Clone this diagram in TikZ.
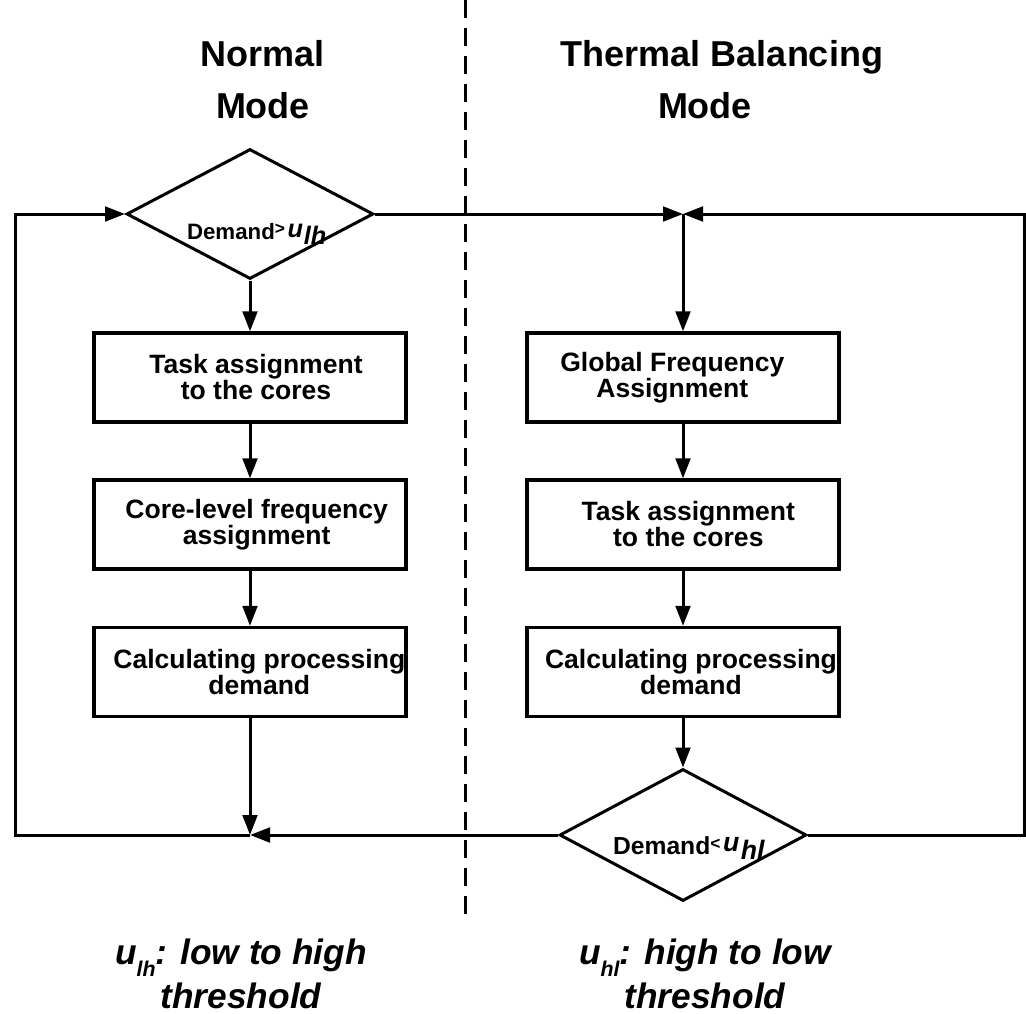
\documentclass[tikz,border=0pt]{standalone}
\usepackage{fontspec}
\setmainfont{Liberation Sans}
\usetikzlibrary{arrows.meta,shapes.geometric}
\newcommand{\dsub}[1]{\raisebox{-3.5pt}{\fontsize{19}{19}\selectfont\textit{#1}}}
\newcommand{\du}{\raisebox{1.5pt}{\fontsize{19}{19}\selectfont\textit{u}}}
\begin{document}
\begin{tikzpicture}[x=0.75pt,y=-0.75pt,
  ln/.style={line width=2.25pt},
  arr/.style={ln,-{Triangle[length=15pt,width=11pt]}},
  box/.style={draw,line width=2.5pt,minimum width=234pt,minimum height=66.75pt,inner sep=0pt},
  dia/.style={draw,diamond,line width=2.25pt,minimum width=185.25pt,minimum height=97.5pt,inner sep=0pt},
  btxt/.style={font=\fontsize{19.9}{19.5}\selectfont\bfseries,align=center,inner sep=0pt},
  dtxt/.style={font=\fontsize{16.7}{16.7}\selectfont\bfseries,inner sep=0pt,anchor=base},
  ttl/.style={font=\fontsize{27}{27}\selectfont\bfseries,anchor=base,inner sep=0pt},
  ftl/.style={font=\fontsize{26.5}{26.5}\selectfont\bfseries\itshape,anchor=base,inner sep=0pt},
]
\useasboundingbox (0,0) rectangle (1026,1014);
\fill[white] (0,0) rectangle (1026,1014);

% separator
\coordinate (sepT) at (465,0);
\coordinate (sepB) at (465,920);
\draw[ln,dash pattern=on 13.5pt off 7.5pt] (sepT) -- (sepB);

% titles
\node[ttl] (t1) at (263,66) {Normal};
\node[ttl] (t2) at (263,118) {Mode};
\node[ttl] (t3) at (722,66) {Thermal Balancing};
\node[ttl] (t4) at (705,118) {Mode};

% left column
\node[dia,label={[dtxt,xshift=5pt,yshift=-15pt]center:{Demand\raisebox{4pt}{\fontsize{13}{13}\selectfont >}\kern2pt\du\kern0.5pt\dsub{lh}}}] (dL) at (250,214) {};
\node[box,label={[btxt,xshift=4.5pt]center:{Task assignment\\to the cores}}] (bL1) at (250,377.5) {};
\node[box,label={[btxt,xshift=5pt]center:{Core-level frequency\\assignment}}] (bL2) at (250,524.5) {};
\node[box,label={[btxt,xshift=7pt]center:{Calculating processing\\demand}}] (bL3) at (250,672) {};

% right column
\node[box,label={[btxt,xshift=-8pt]center:{Global Frequency\\Assignment}}] (bR1) at (683,377.5) {};
\node[box,label={[btxt,xshift=4pt]center:{Task assignment\\to the cores}}] (bR2) at (683,524.5) {};
\node[box,label={[btxt,xshift=6pt]center:{Calculating processing\\demand}}] (bR3) at (683,672) {};
\node[dia,minimum height=99pt,label={[dtxt,font=\fontsize{18.5}{18.5}\selectfont\bfseries,xshift=4.5pt,yshift=-10pt]center:{Demand\raisebox{4pt}{\fontsize{13}{13}\selectfont <}\kern2pt\raisebox{2pt}{\fontsize{20}{20}\selectfont\textit{u}}\kern1pt\raisebox{-4pt}{\fontsize{20}{20}\selectfont\textit{hl}}}}] (dR) at (683,835) {};

% junctions and corners
\coordinate (jL) at (250,835);
\coordinate (jR) at (683,214);
\coordinate (cLB) at (15,835);
\coordinate (cRB) at (1024,835);

% connectors left
\draw[arr] (dL.south) -- (bL1.north);
\draw[arr] (bL1.south) -- (bL2.north);
\draw[arr] (bL2.south) -- (bL3.north);
\draw[arr] (bL3.south) -- (jL);
\draw[arr] (jL) -- (cLB) |- (dL.west);
\draw[arr] (dL.east) -- (jR);

% connectors right
\draw[arr] (jR) -- (bR1.north);
\draw[arr] (bR1.south) -- (bR2.north);
\draw[arr] (bR2.south) -- (bR3.north);
\draw[arr] (bR3.south) -- (dR.north);
\draw[arr] (dR.west) -- (jL);
\draw[arr] (dR.east) -- (cRB) |- (jR);

% footnotes
\node[ftl] (f1) at (241,964) {u\raisebox{-9pt}{\fontsize{16}{16}\selectfont lh}: low to high};
\node[ftl] (f2) at (241,1008) {threshold};
\node[ftl] (f3) at (705,964) {u\raisebox{-9pt}{\fontsize{16}{16}\selectfont hl}: high to low};
\node[ftl] (f4) at (705,1008) {threshold};
\end{tikzpicture}
\end{document}
